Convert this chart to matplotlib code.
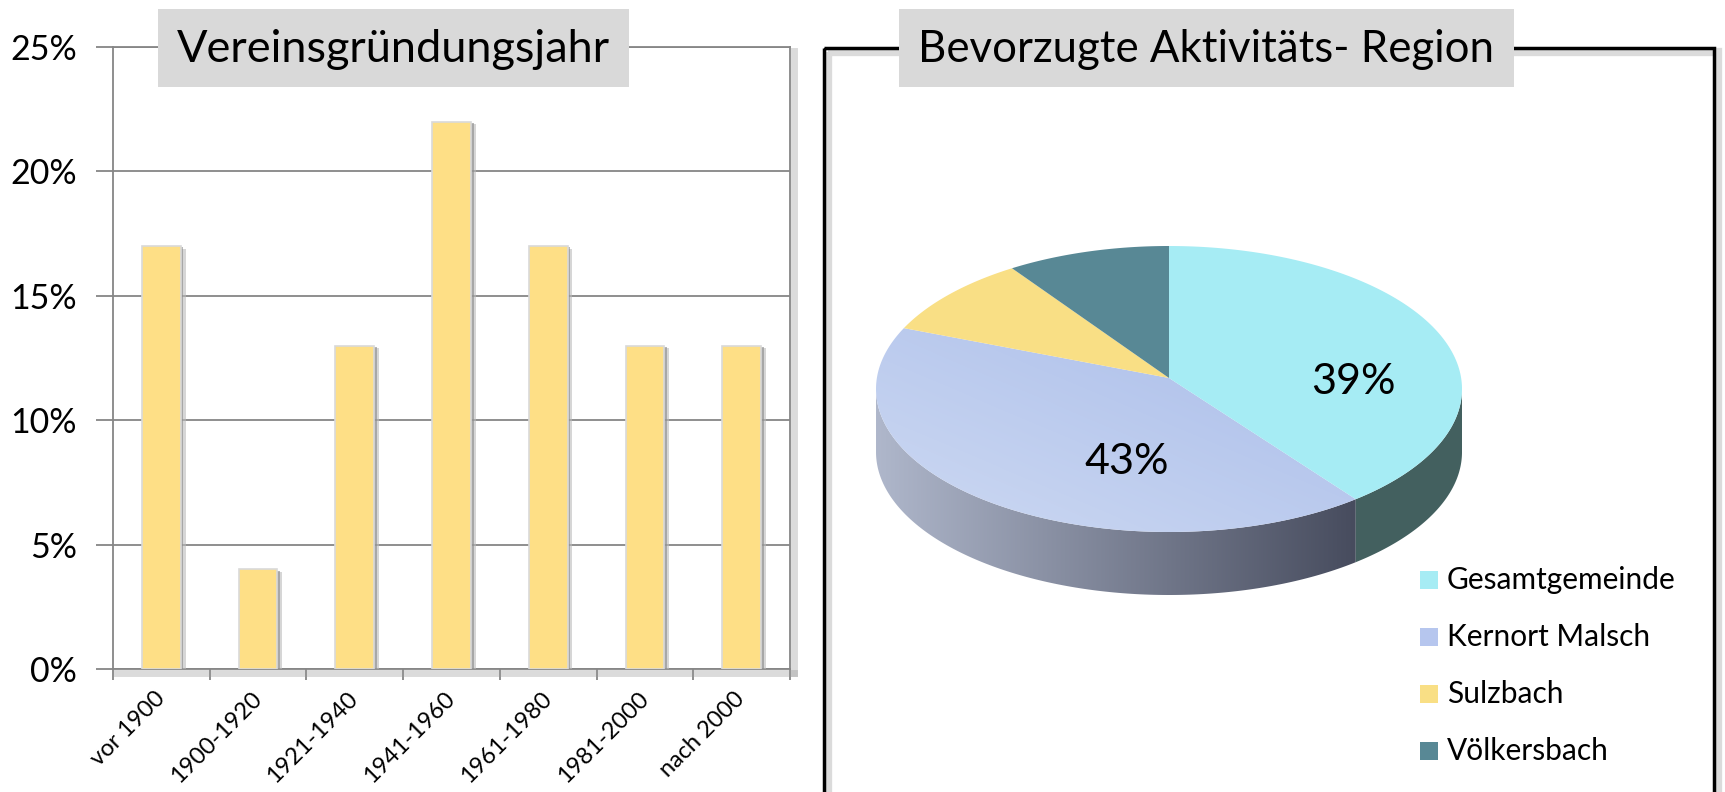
import matplotlib.pyplot as plt
import matplotlib.patheffects as pe
import matplotlib.transforms as mtrans
from matplotlib.patches import Rectangle, Polygon
from matplotlib.colors import LinearSegmentedColormap
import numpy as np

plt.rcParams['font.family'] = ['Lato', 'DejaVu Sans']

# Vereinsgründungsjahr (Anteil in %)
jahre = ["vor 1900", "1900-1920", "1921-1940", "1941-1960",
         "1961-1980", "1981-2000", "nach 2000"]
anteil_jahre = [17, 4, 13, 22, 17, 13, 13]
y_ticks = [0, 5, 10, 15, 20, 25]

# Bevorzugte Aktivitäts-Region (Anteil in %)
regionen = ["Gesamtgemeinde", "Kernort Malsch", "Sulzbach", "Völkersbach"]
anteil_region = [39, 43, 9, 9]
farben_region = ["#A6ECF4", "#B6C6EE", "#F9DF85", "#588895"]
labels_region = ["39%", "43%", "", ""]

W, H = 1725, 792
fig = plt.figure(figsize=(W / 100, H / 100), dpi=100)


def fx(px):
    return px / W


def fy(py):
    return 1 - py / H


grau = "#868686"

# ---- Säulendiagramm ----
ax = fig.add_axes([fx(113), fy(669), fx(790) - fx(113), fy(47) - fy(669)])
x = np.arange(len(jahre))
bars = ax.bar(x, anteil_jahre, width=0.4, color="#FEDF86",
              edgecolor="#D9D9D9", linewidth=1.2, zorder=3)
for b in bars:
    b.set_path_effects([
        pe.SimplePatchShadow(offset=(3.5, -2), shadow_rgbFace="#bbbbbb", alpha=0.6),
        pe.SimplePatchShadow(offset=(2, -1), shadow_rgbFace="#888888", alpha=0.6),
        pe.Normal()])
ax.set_xlim(-0.5, len(jahre) - 0.5)
ax.set_ylim(0, 25)
ax.set_yticks(y_ticks)
ax.set_yticklabels([f"{v}%" for v in y_ticks], fontsize=24.5)
ax.yaxis.grid(True, color=grau, linewidth=1.3, zorder=0)
ax.set_axisbelow(True)
ax.set_xticks(x)
ax.set_xticklabels(jahre, rotation=45, ha="right", va="center",
                   rotation_mode="anchor", fontsize=17)
verschiebung = mtrans.ScaledTranslation(5 / 100, 0, fig.dpi_scale_trans)
for lab in ax.get_xticklabels():
    lab.set_transform(lab.get_transform() + verschiebung)
ax.set_xticks(np.arange(len(jahre) + 1) - 0.5, minor=True)
ax.tick_params(axis="x", which="major", length=0, pad=19)
ax.tick_params(axis="x", which="minor", length=8, color=grau, width=1.3)
ax.tick_params(axis="y", length=12, color=grau, width=1.3, pad=14)
for name, sp in ax.spines.items():
    sp.set_color(grau)
    sp.set_linewidth(1.3)
    if name in ("right", "bottom"):
        sp.set_path_effects([
            pe.SimpleLineShadow(offset=(3, -3), shadow_color="#999999", alpha=0.35, linewidth=5),
            pe.Normal()])

# ---- Overlay für Titel, Kreisdiagramm, Legende ----
ov = fig.add_axes([0, 0, 1, 1])
ov.set_xlim(0, W)
ov.set_ylim(H, 0)
ov.axis("off")

# Rahmen rechts
rahmen = Rectangle((824, 48), 1714 - 824, 800, fill=False, edgecolor="black", linewidth=2.5)
rahmen.set_path_effects([
    pe.SimpleLineShadow(offset=(3, -3), shadow_color="#999999", alpha=0.35, linewidth=6),
    pe.Normal()])
ov.add_patch(rahmen)

# Titelboxen
for (x0, x1, txt, fs) in [(158, 629, "Vereinsgründungsjahr", 32.5),
                          (899, 1514, "Bevorzugte Aktivitäts- Region", 31.5)]:
    ov.add_patch(Rectangle((x0, 9), x1 - x0, 78, facecolor="#D9D9D9", edgecolor="none"))
    ov.text((x0 + x1) / 2, 49, txt, fontsize=fs, ha="center", va="center")

# ---- 3D-Kreisdiagramm ----
cx, cy, rx, ry, tiefe = 1169, 389, 293, 143, 63
apex = (cx, cy - 11)
grenzen = 90 - np.cumsum([0] + anteil_region) / 100 * 360


def rand(t0, t1, dy=0, n=150):
    t = np.radians(np.linspace(t0, t1, n))
    return np.column_stack([cx + rx * np.cos(t), cy - ry * np.sin(t) + dy])


seiten_farben = ["#43605F", None, "#B59E55", "#3C5C66"]
grad_seite = LinearSegmentedColormap.from_list("seite", ["#AFB7CB", "#474C5E"])
grad_top = LinearSegmentedColormap.from_list("top", ["#CDD9F2", "#AABDEA"])

# Seitenflächen (nur vorne sichtbar)
for i in range(len(regionen)):
    a, b = grenzen[i + 1], grenzen[i]
    lo, hi = max(a, -180), min(b, 0)
    if lo >= hi:
        continue
    oben = rand(lo, hi)
    unten = rand(hi, lo, dy=tiefe)
    poly = Polygon(np.vstack([oben, unten]), closed=True, edgecolor="none")
    if seiten_farben[i] is None:
        poly.set_facecolor("none")
        ov.add_patch(poly)
        xs = np.vstack([oben, unten])
        grad = np.linspace(0, 1, 256).reshape(1, -1)
        im = ov.imshow(grad, cmap=grad_seite, aspect="auto",
                       extent=(xs[:, 0].min(), xs[:, 0].max(), xs[:, 1].max(), xs[:, 1].min()))
        im.set_clip_path(poly)
    else:
        poly.set_facecolor(seiten_farben[i])
        ov.add_patch(poly)

# Deckflächen
for i in range(len(regionen)):
    pts = np.vstack([[apex], rand(grenzen[i], grenzen[i + 1])])
    poly = Polygon(pts, closed=True, edgecolor="none")
    if i == 1:
        poly.set_facecolor("none")
        ov.add_patch(poly)
        n = 200
        jj, ii = np.meshgrid(np.linspace(0, 1, n), np.linspace(0, 1, n))
        grad = (jj + (1 - ii)) / 2
        im = ov.imshow(grad, cmap=grad_top, aspect="auto",
                       extent=(pts[:, 0].min(), pts[:, 0].max(), pts[:, 1].max(), pts[:, 1].min()))
        im.set_clip_path(poly)
    else:
        poly.set_facecolor(farben_region[i])
        ov.add_patch(poly)

# Datenbeschriftungen
label_pos = [(1353, 382), (1127, 462), None, None]
for lab, pos in zip(labels_region, label_pos):
    if lab:
        ov.text(pos[0], pos[1], lab, fontsize=31, ha="center", va="center")

# Legende
for i, (name, col) in enumerate(zip(regionen, farben_region)):
    yy = 580 + i * 57
    ov.add_patch(Rectangle((1420, yy - 9), 18, 18, facecolor=col, edgecolor="none"))
    ov.text(1447, yy, name, fontsize=21.5, ha="left", va="center")

ov.set_xlim(0, W)
ov.set_ylim(H, 0)

fig.savefig("out.png", dpi=100)
